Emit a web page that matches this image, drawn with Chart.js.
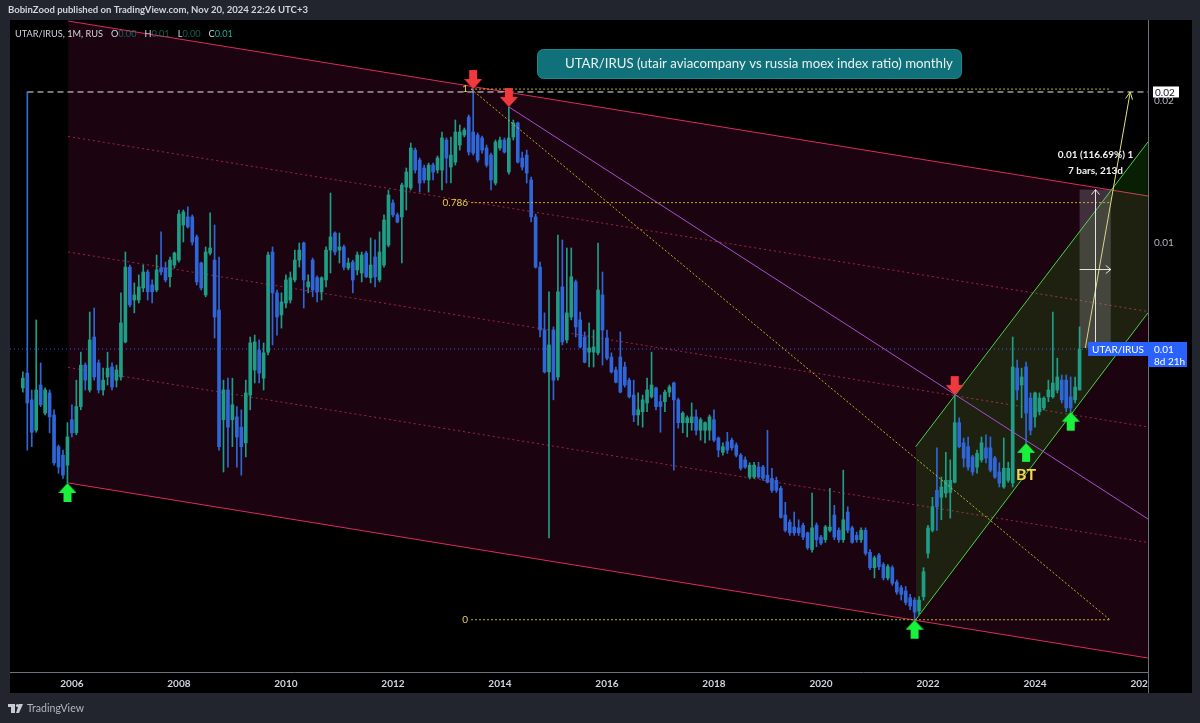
<!DOCTYPE html>
<html>
<head>
<meta charset="utf-8">
<title>UTAR/IRUS monthly</title>
<script src="https://cdn.jsdelivr.net/npm/chart.js@4.4.1/dist/chart.umd.min.js"></script>
<style>
  html, body { margin: 0; padding: 0; background: #22252d; }
  #wrap { width: 1200px; height: 723px; position: relative; }
</style>
</head>
<body>
<div id="wrap"><canvas id="c"></canvas></div>
<script>
// Monthly candles of the UTAR/IRUS ratio, Feb 2005 .. Nov 2024.
// Values are stored in thousandths of the ratio (5.96 means 0.00596).
const startYear = 2005, startMonth = 2;

const opens = [
  4.93, 5.30, 4.65, 4.01, 5.00, 4.36, 4.81, 4.32, 3.70, 3.55, 3.38,
  4.22, 3.96, 4.50, 5.51, 4.88, 6.32, 5.57, 4.88, 5.20, 5.46, 5.12, 5.20,
  6.17, 8.89, 7.57, 7.57, 8.03, 8.68, 8.15, 7.95, 8.85, 8.85, 8.48, 8.98,
  9.20, 10.92, 11.36, 11.36, 10.30, 9.07, 7.76, 9.52, 9.20, 7.21, 4.22, 4.88,
  4.22, 4.28, 4.07, 3.77, 4.76, 5.38, 5.93, 5.17, 5.87, 9.57, 7.84, 7.04,
  7.46, 7.57, 8.35, 9.20, 10.00, 8.07, 9.20, 8.44, 7.88, 8.35, 9.66, 10.50,
  9.66, 9.81, 8.85, 9.11, 8.77, 8.64, 9.52, 8.44, 9.34, 8.35, 8.98, 9.90,
  12.16, 11.47, 11.36, 13.14, 13.08, 15.74, 14.99, 14.42, 13.60, 14.63, 14.28, 14.28,
  16.53, 14.49, 14.84, 16.13, 16.94, 18.50, 17.19, 16.94, 16.70, 15.90, 15.36, 13.40,
  15.90, 16.53, 14.14, 16.78, 17.97, 15.14, 15.36, 13.60, 11.36, 8.89, 6.54, 5.33,
  6.54, 5.20, 8.07, 6.23, 6.97, 8.27, 6.87, 6.32, 5.87, 5.87, 5.85, 7.76,
  6.29, 5.73, 5.38, 5.73, 5.46, 5.12, 4.76, 4.32, 4.39, 4.58, 4.72, 4.93,
  4.61, 4.61, 4.83, 5.05, 4.65, 4.16, 4.16, 4.16, 4.28, 4.01, 4.01, 4.01,
  4.22, 3.86, 3.60, 3.79, 3.82, 3.73, 3.55, 3.47, 3.19, 3.19, 3.35, 3.35,
  3.22, 3.17, 3.14, 3.02, 2.65, 2.56, 2.50, 2.49, 2.52, 2.43, 2.24, 2.52,
  2.38, 2.35, 2.46, 2.65, 2.46, 2.35, 2.69, 2.49, 2.40, 2.35, 2.46, 2.21,
  2.05, 2.18, 2.08, 1.95, 2.05, 1.91, 1.86, 1.83, 1.77, 1.75, 1.66, 1.78,
  2.20, 2.46, 2.99, 2.89, 2.95, 2.96, 3.11, 4.16, 3.77, 3.70, 3.52, 3.35,
  3.47, 3.68, 3.68, 3.50, 3.27, 3.04, 3.14, 3.10, 5.43, 5.00, 5.46, 4.69,
  4.28, 4.39, 4.47, 4.72, 4.72, 4.88, 5.12, 5.12, 4.72, 4.65, 4.88
];
const highs = [
  5.33, 20.90, 4.88, 6.87, 5.57, 4.93, 4.88, 4.43, 3.73, 3.64, 4.16,
  4.54, 5.12, 5.87, 5.57, 7.14, 7.28, 5.65, 5.43, 5.87, 5.57, 5.51, 7.84,
  9.57, 8.98, 8.23, 8.56, 8.98, 8.77, 8.35, 9.43, 10.56, 9.11, 9.34, 9.57,
  11.75, 11.75, 11.93, 11.47, 10.40, 9.11, 9.81, 11.58, 10.92, 9.34, 5.12, 5.17,
  5.17, 4.50, 4.43, 5.12, 6.32, 6.38, 6.23, 6.14, 9.57, 9.81, 7.95, 7.84,
  8.56, 8.68, 9.66, 10.00, 10.05, 8.56, 9.29, 8.52, 8.48, 9.81, 12.76, 10.56,
  10.50, 9.90, 9.29, 9.20, 9.57, 9.57, 9.61, 10.25, 10.15, 10.56, 11.47, 12.95,
  12.34, 11.58, 13.40, 14.42, 16.29, 15.90, 15.14, 14.63, 14.77, 14.77, 15.29, 17.19,
  16.70, 16.78, 18.23, 17.79, 17.53, 18.68, 21.20, 17.11, 16.86, 16.13, 15.51, 16.53,
  16.78, 16.70, 19.42, 18.23, 18.05, 15.59, 15.74, 13.80, 11.52, 9.11, 7.11, 7.88,
  6.64, 10.40, 10.15, 9.76, 9.76, 8.35, 7.14, 6.48, 6.77, 6.54, 10.00, 8.68,
  6.54, 5.85, 5.46, 6.48, 5.59, 5.17, 5.12, 4.81, 4.76, 5.17, 5.87, 4.95,
  4.76, 4.88, 5.00, 5.07, 4.69, 4.39, 4.30, 4.58, 4.43, 4.26, 4.18, 4.32,
  4.43, 3.88, 3.77, 3.97, 3.86, 3.77, 3.58, 3.52, 3.42, 3.43, 3.43, 3.38,
  4.01, 3.33, 3.19, 3.05, 2.82, 2.59, 2.69, 2.59, 2.55, 2.44, 2.95, 2.55,
  2.40, 2.52, 3.02, 2.78, 2.49, 3.30, 2.76, 2.51, 2.44, 2.49, 2.49, 2.24,
  2.17, 2.20, 2.10, 2.08, 2.07, 1.93, 1.88, 1.87, 1.80, 1.77, 1.78, 2.05,
  2.52, 2.89, 3.68, 3.19, 3.60, 3.47, 4.76, 4.26, 3.86, 3.88, 3.55, 3.64,
  3.88, 3.92, 3.88, 3.53, 3.42, 3.86, 3.43, 6.32, 5.65, 5.43, 5.59, 4.81,
  4.83, 4.81, 4.72, 5.12, 7.14, 5.70, 5.25, 5.25, 5.20, 5.20, 6.64
];
const lows = [
  4.83, 3.64, 3.70, 3.97, 4.50, 4.32, 3.96, 3.38, 3.25, 3.17, 3.10,
  3.88, 3.92, 4.43, 4.88, 4.83, 5.12, 4.81, 4.76, 5.00, 4.88, 4.95, 5.12,
  6.14, 7.32, 7.11, 7.46, 7.88, 7.57, 7.46, 7.88, 8.56, 8.27, 8.07, 8.85,
  9.11, 10.05, 10.76, 9.90, 8.15, 7.95, 7.69, 9.43, 6.29, 3.64, 3.27, 3.35,
  3.70, 3.35, 3.22, 3.52, 4.43, 5.05, 5.05, 4.88, 5.79, 6.08, 6.38, 6.60,
  7.28, 7.46, 8.27, 8.89, 7.28, 7.84, 7.69, 7.50, 7.57, 8.07, 8.64, 9.43,
  9.07, 8.77, 8.77, 7.84, 8.56, 8.27, 8.44, 8.23, 8.07, 8.27, 8.89, 9.81,
  11.36, 11.03, 9.07, 11.75, 12.95, 14.07, 12.82, 13.40, 12.82, 13.60, 14.07, 12.95,
  13.40, 13.40, 14.63, 15.74, 16.78, 15.36, 15.36, 14.84, 15.51, 14.49, 12.95, 13.27,
  15.74, 15.51, 14.00, 16.53, 14.77, 14.28, 13.40, 11.08, 8.85, 6.32, 5.30, 2.37,
  4.65, 5.12, 6.08, 6.14, 6.87, 6.32, 5.99, 5.57, 5.46, 5.46, 5.79, 5.51,
  5.65, 5.30, 5.05, 4.81, 4.95, 4.69, 4.18, 4.11, 4.07, 4.39, 4.69, 4.43,
  3.97, 4.39, 4.72, 3.30, 4.05, 3.96, 3.88, 4.01, 3.92, 3.82, 3.77, 3.82,
  3.79, 3.52, 3.55, 3.58, 3.64, 3.52, 3.30, 3.33, 3.16, 3.17, 3.17, 3.14,
  3.10, 2.96, 2.96, 2.61, 2.44, 2.40, 2.40, 2.40, 2.35, 2.24, 2.21, 2.27,
  2.29, 2.32, 2.44, 2.35, 2.32, 2.32, 2.43, 2.31, 2.32, 2.32, 2.18, 2.03,
  1.95, 2.03, 1.93, 1.93, 1.88, 1.80, 1.75, 1.71, 1.67, 1.59, 1.63, 1.75,
  2.15, 2.44, 2.46, 2.59, 2.89, 2.61, 3.10, 3.68, 3.35, 3.30, 3.22, 3.25,
  3.43, 3.42, 3.27, 3.17, 3.04, 3.02, 3.11, 3.04, 4.65, 4.26, 3.77, 3.92,
  4.07, 4.32, 4.43, 4.61, 4.69, 4.81, 4.58, 4.39, 4.39, 4.58, 4.88
];
const closes = [
  5.17, 4.58, 3.97, 4.88, 4.54, 4.88, 4.28, 3.42, 3.35, 3.22, 3.88,
  3.96, 4.50, 5.51, 5.12, 6.23, 5.20, 4.88, 5.12, 5.43, 4.95, 5.38, 6.77,
  8.89, 7.39, 7.76, 8.07, 8.68, 7.88, 7.88, 8.77, 8.68, 8.35, 9.20, 9.52,
  11.52, 11.64, 10.82, 10.05, 8.27, 8.03, 9.57, 9.76, 6.97, 3.70, 4.88, 4.07,
  4.54, 3.88, 3.70, 4.81, 6.14, 6.17, 5.30, 5.85, 9.43, 7.84, 6.97, 7.50,
  8.35, 8.44, 9.20, 9.66, 8.35, 8.27, 7.95, 7.88, 8.44, 9.66, 10.30, 9.57,
  9.81, 8.89, 9.07, 8.35, 9.43, 9.43, 8.48, 8.98, 8.48, 9.57, 11.19, 12.64,
  11.47, 11.08, 13.27, 14.14, 15.90, 14.28, 13.40, 13.60, 14.63, 14.14, 15.14, 16.70,
  15.14, 15.36, 17.19, 17.19, 17.36, 15.59, 15.51, 14.99, 15.74, 14.63, 13.60, 16.37,
  16.53, 15.59, 16.70, 17.97, 14.84, 14.49, 14.07, 11.36, 8.89, 6.54, 5.33, 6.08,
  5.12, 7.88, 6.17, 7.11, 8.48, 6.64, 6.02, 5.59, 5.99, 6.02, 7.95, 6.54,
  5.70, 5.33, 5.07, 4.83, 5.00, 4.72, 4.32, 4.43, 4.65, 4.88, 5.00, 4.50,
  4.50, 4.83, 4.95, 4.65, 4.16, 4.36, 4.26, 4.28, 4.01, 4.22, 4.16, 4.28,
  3.82, 3.64, 3.70, 3.64, 3.68, 3.55, 3.33, 3.35, 3.38, 3.38, 3.19, 3.17,
  3.11, 2.99, 2.99, 2.62, 2.46, 2.43, 2.43, 2.43, 2.38, 2.26, 2.49, 2.35,
  2.31, 2.50, 2.50, 2.38, 2.35, 2.59, 2.46, 2.32, 2.35, 2.46, 2.20, 2.05,
  2.15, 2.06, 1.95, 2.06, 1.90, 1.82, 1.80, 1.73, 1.70, 1.65, 1.75, 2.01,
  2.49, 2.76, 2.76, 3.04, 3.14, 3.14, 4.16, 3.70, 3.50, 3.35, 3.27, 3.58,
  3.77, 3.50, 3.30, 3.19, 3.10, 3.33, 3.33, 5.46, 4.88, 5.20, 4.36, 4.01,
  4.81, 4.69, 4.69, 4.88, 5.05, 5.20, 4.65, 4.47, 4.47, 4.95, 5.96
];

// Axis ticks
const xTickYears = [2006, 2008, 2010, 2012, 2014, 2016, 2018, 2020, 2022, 2024, 2026];
const yTickValues = [0.01, 0.02];

// Drawings on the chart (dates as decimal years, prices in thousandths)
const channelX = [2005.93, 2026.11];
const channelTop = [29.55, 12.58];
const channelBottom = [3.10, 1.319];
const channelLevels = [0.25, 0.5, 0.75];

const fibX = [2013.46, 2025.40];
const fibPrices = [21.20, 1.59];          // level 1, level 0
const fibLevels = [1, 0.786, 0];

const rayStart = 2005.17, rayPrice = 20.90;

const resistX = [2014.17, 2026.11];
const resistY = [19.42, 2.60];

const upChannelX = [2021.77, 2026.11];
const upChannelLower = [1.59, 7.11];
const upChannelUpper = [3.70, 16.37];

const targetX = [2024.94, 2025.78];
const targetY = [5.99, 20.90];

const measureStart = 2024.833, measureBars = 7, measureDays = 213;
const measureLow = 5.99, measurePct = 116.69;

const topMarkX = [2013.5, 2014.167, 2022.5];
const topMarkY = [21.20, 19.42, 4.76];
const bottomMarkX = [2005.917, 2021.75, 2023.833, 2024.667];
const bottomMarkY = [3.10, 1.59, 3.77, 4.39];
const retestMark = 2;   // the bottom mark labelled "BT"

const titleText = 'UTAR/IRUS (utair aviacompany vs russia moex index ratio) monthly';
const headerText = 'BobinZood published on TradingView.com, Nov 20, 2024 22:26 UTC+3';
const symbolText = 'UTAR/IRUS, 1M, RUS';
const countdownText = '8d 21h';

// ---------------------------------------------------------------
const K = 0.001;
const X_MIN = 2004.8433, X_MAX = 2026.1119;
const Y_MIN = 0.001232, Y_MAX = 0.029698;

const UP = '#1f9e87', DOWN = '#2f67d8';
const FRAME = '#22252d';

const candles = closes.map((c, i) => ({
  x: startYear + (startMonth - 1 + i) / 12,
  o: opens[i] * K, h: highs[i] * K, l: lows[i] * K, c: c * K
}));
const last = candles[candles.length - 1];
const colorOf = ctx => {
  const c = candles[ctx.dataIndex];
  return c && c.c >= c.o ? UP : DOWN;
};

function makeArrow(color, pointingDown) {
  const cv = document.createElement('canvas');
  cv.width = 18; cv.height = 40;
  const g = cv.getContext('2d');
  g.fillStyle = color;
  g.beginPath();
  if (pointingDown) {
    g.rect(5, 1, 8, 9);
    g.moveTo(0, 10); g.lineTo(18, 10); g.lineTo(9, 20);
  } else {
    g.rect(5, 30, 8, 9);
    g.moveTo(0, 30); g.lineTo(18, 30); g.lineTo(9, 20);
  }
  g.closePath();
  g.fill();
  return cv;
}
const downArrow = makeArrow('#f0393f', true);
const upArrow = makeArrow('#19f23c', false);

const datasets = [];
const add = ds => { datasets.push(ds); return datasets.length - 1; };
const pts = (xs, ys) => xs.map((x, i) => ({ x, y: ys[i] * K }));
const lineBase = { type: 'line', pointRadius: 0, borderWidth: 1, fill: false, tension: 0 };

// falling channel with its fill and inner quarter lines
const iChanBottom = add({ ...lineBase, data: pts(channelX, channelBottom), borderColor: '#dc2b5e', order: 20 });
add({ ...lineBase, data: pts(channelX, channelTop), borderColor: '#dc2b5e',
      fill: iChanBottom, backgroundColor: 'rgba(136,14,79,0.2)', order: 20 });
channelLevels.forEach(t => add({
  ...lineBase,
  data: channelX.map((x, i) => ({ x, y: K * channelTop[i] * Math.pow(channelBottom[i] / channelTop[i], t) })),
  borderColor: 'rgba(200,38,86,0.8)', borderDash: [2, 3], order: 19
}));

// rising channel
const iUpLower = add({ ...lineBase, data: pts(upChannelX, upChannelLower), borderColor: '#45d445', order: 7 });
add({ ...lineBase, data: pts(upChannelX, upChannelUpper), borderColor: '#45d445',
      fill: iUpLower, backgroundColor: 'rgba(60,210,20,0.15)', order: 7 });

// last price line
add({ ...lineBase, data: [{ x: X_MIN, y: last.c }, { x: X_MAX, y: last.c }],
      borderColor: 'rgba(60,100,255,0.9)', borderDash: [1, 3], order: 6 });

// candles: wicks and bodies
add({ type: 'bar', data: candles.map(c => ({ x: c.x, y: [c.l, c.h] })),
      backgroundColor: colorOf, barThickness: 1, grouped: false, order: 5 });
add({ type: 'bar', data: candles.map(c => ({ x: c.x, y: [Math.min(c.o, c.c), Math.max(c.o, c.c)] })),
      backgroundColor: colorOf, barThickness: 3, minBarLength: 1, grouped: false, order: 5 });

// fibonacci retracement
const fibPrice = t => K * fibPrices[1] * Math.pow(fibPrices[0] / fibPrices[1], t);
fibLevels.forEach(t => add({ ...lineBase, data: fibX.map(x => ({ x, y: fibPrice(t) })),
      borderColor: 'rgba(215,190,40,0.9)', borderDash: [2, 2], order: 3 }));
add({ ...lineBase, data: [{ x: fibX[0], y: fibPrice(1) }, { x: fibX[1], y: fibPrice(0) }],
      borderColor: 'rgba(215,190,40,0.9)', borderDash: [2, 2], order: 3 });

// horizontal ray from the 2005 high
add({ ...lineBase, data: [{ x: rayStart, y: rayPrice * K }, { x: X_MAX, y: rayPrice * K }],
      borderColor: '#e8e8e8', borderDash: [6, 4], order: 3 });

// falling resistance line
add({ ...lineBase, data: pts(resistX, resistY), borderColor: '#a64fd0', order: 3 });

// projection arrow
const iTarget = add({ ...lineBase, data: pts(targetX, targetY), borderColor: '#e6df78', order: 1 });

// turning point markers
add({ type: 'line', showLine: false, data: pts(topMarkX, topMarkY), pointStyle: downArrow, pointRadius: 9, order: 0 });
const iBottomMarks = add({ type: 'line', showLine: false, data: pts(bottomMarkX, bottomMarkY),
      pointStyle: upArrow, pointRadius: 9, order: 0 });

function fitFont(ctx, text, weight, family, width) {
  ctx.font = `${weight} 20px ${family}`;
  const size = 20 * width / ctx.measureText(text).width;
  ctx.font = `${weight} ${size.toFixed(2)}px ${family}`;
}

const decor = {
  id: 'decor',
  beforeDraw(chart) {
    const { ctx, width, height, chartArea } = chart;
    const xs = chart.scales.x, ys = chart.scales.y;
    ctx.save();
    ctx.fillStyle = FRAME;
    ctx.fillRect(0, 0, width, height);
    ctx.fillStyle = '#000';
    ctx.fillRect(chartArea.left, chartArea.top, ys.right - chartArea.left, xs.bottom - chartArea.top);
    ctx.restore();
  },
  afterDatasetsDraw(chart) {
    const { ctx, chartArea } = chart;
    const xs = chart.scales.x, ys = chart.scales.y;
    ctx.save();
    ctx.beginPath();
    ctx.rect(chartArea.left, chartArea.top, chartArea.right - chartArea.left, chartArea.bottom - chartArea.top);
    ctx.clip();

    // price/date range measurement
    const lowP = measureLow * K, highP = lowP * (1 + measurePct / 100);
    const mx0 = xs.getPixelForValue(measureStart);
    const mx1 = xs.getPixelForValue(measureStart + measureBars / 12);
    const my0 = ys.getPixelForValue(highP), my1 = ys.getPixelForValue(lowP);
    ctx.fillStyle = 'rgba(178,181,190,0.25)';
    ctx.fillRect(mx0, my0, mx1 - mx0, my1 - my0);
    const cx = Math.round((mx0 + mx1) / 2) + 0.5, cy = Math.round((my0 + my1) / 2) + 0.5;
    ctx.strokeStyle = 'rgba(255,255,255,0.85)';
    ctx.lineWidth = 1;
    ctx.beginPath();
    ctx.moveTo(cx, my1); ctx.lineTo(cx, my0);
    ctx.moveTo(cx - 4, my0 + 5); ctx.lineTo(cx, my0); ctx.lineTo(cx + 4, my0 + 5);
    ctx.moveTo(mx0, cy); ctx.lineTo(mx1, cy);
    ctx.moveTo(mx1 - 5, cy - 4); ctx.lineTo(mx1, cy); ctx.lineTo(mx1 - 5, cy + 4);
    ctx.stroke();
    ctx.fillStyle = '#f0f0f0';
    ctx.font = 'bold 10px Lato';
    ctx.textAlign = 'center';
    ctx.textBaseline = 'middle';
    ctx.fillText(`${(highP - lowP).toFixed(2)} (${measurePct.toFixed(2)}%) 1`, cx, my0 - 35);
    ctx.fillText(`${measureBars} bars, ${measureDays}d`, cx, my0 - 19);

    // arrow head of the projection line
    const tm = chart.getDatasetMeta(iTarget).data;
    const a = tm[0], b = tm[1];
    const ang = Math.atan2(b.y - a.y, b.x - a.x);
    ctx.strokeStyle = '#e6df78';
    ctx.beginPath();
    ctx.moveTo(b.x - 8 * Math.cos(ang - 0.45), b.y - 8 * Math.sin(ang - 0.45));
    ctx.lineTo(b.x, b.y);
    ctx.lineTo(b.x - 8 * Math.cos(ang + 0.45), b.y - 8 * Math.sin(ang + 0.45));
    ctx.stroke();

    // fibonacci level labels
    ctx.fillStyle = '#e8d23a';
    ctx.font = '10px Lato';
    ctx.textAlign = 'right';
    const fx = xs.getPixelForValue(fibX[0]) - 3;
    fibLevels.forEach(t => ctx.fillText(String(t), fx, ys.getPixelForValue(fibPrice(t))));

    // retest label
    const bt = chart.getDatasetMeta(iBottomMarks).data[retestMark];
    ctx.fillStyle = '#f5d84a';
    ctx.font = 'bold 16px Lato';
    ctx.textAlign = 'center';
    ctx.fillText('BT', bt.x, bt.y + 32);
    ctx.restore();
  },
  afterDraw(chart) {
    const { ctx, chartArea } = chart;
    const xs = chart.scales.x, ys = chart.scales.y;
    ctx.save();

    // cover the x labels running under the price scale
    ctx.fillStyle = '#000';
    ctx.fillRect(chartArea.right + 1, chartArea.bottom + 1, ys.right - chartArea.right - 1, xs.bottom - chartArea.bottom - 1);

    // axis separators
    ctx.strokeStyle = '#6e717b';
    ctx.lineWidth = 1;
    ctx.beginPath();
    ctx.moveTo(chartArea.left, chartArea.bottom + 0.5);
    ctx.lineTo(chartArea.right, chartArea.bottom + 0.5);
    ctx.moveTo(chartArea.right + 0.5, chartArea.top);
    ctx.lineTo(chartArea.right + 0.5, xs.bottom);
    ctx.stroke();

    // header line
    ctx.textBaseline = 'middle';
    ctx.textAlign = 'left';
    ctx.fillStyle = '#d1d4dc';
    fitFont(ctx, headerText, 'bold', 'Lato', 300);
    ctx.fillText(headerText, 8, 10);

    // symbol legend with last bar values
    fitFont(ctx, symbolText, 'normal', 'Lato', 88);
    ctx.fillStyle = '#d1d4dc';
    ctx.fillText(symbolText, 15, 34);
    let lx = 15 + 88 + 8;
    [['O', last.o], ['H', last.h], ['L', last.l], ['C', last.c]].forEach(([k, v], i) => {
      ctx.fillStyle = '#d1d4dc';
      ctx.fillText(k, lx, 34);
      lx += ctx.measureText(k).width;
      ctx.fillStyle = i === 3 ? '#22ab94' : 'rgba(34,171,148,0.55)';
      const s = v.toFixed(2);
      ctx.fillText(s, lx, 34);
      lx += ctx.measureText(s).width + 8;
    });

    // title note
    ctx.fillStyle = '#10717a';
    ctx.strokeStyle = '#1a8a90';
    ctx.beginPath();
    ctx.roundRect(537.5, 49.5, 424, 29, 6);
    ctx.fill();
    ctx.stroke();
    ctx.fillStyle = '#e9f1f1';
    fitFont(ctx, titleText, 'normal', 'Lato', 388);
    ctx.fillText(titleText, 565, 64);

    // price scale labels
    const axX = chartArea.right;
    ctx.font = '10px Lato';
    const ry = ys.getPixelForValue(rayPrice * K);
    ctx.fillStyle = '#ffffff';
    ctx.fillRect(axX + 5, ry - 5.5, 26, 11);
    ctx.fillStyle = '#131722';
    ctx.fillText((rayPrice * K).toFixed(2), axX + 7, ry + 0.5);

    const py = Math.round(ys.getPixelForValue(last.c));
    ctx.font = '10px Lato';
    const nameW = ctx.measureText('UTAR/IRUS').width + 8;
    ctx.fillStyle = '#2962ff';
    ctx.fillRect(axX - nameW, py - 7, nameW, 14);
    ctx.fillRect(axX, py - 7, 39, 25);
    ctx.fillStyle = '#ffffff';
    ctx.fillText('UTAR/IRUS', axX - nameW + 4, py + 0.5);
    ctx.fillText(last.c.toFixed(2), axX + 6, py + 0.5);
    ctx.fillText(countdownText, axX + 6, py + 12.5);

    // footer brand
    ctx.fillStyle = '#c7cad3';
    ctx.fillRect(8, 704, 7, 3);
    ctx.fillRect(11, 704, 4, 9);
    ctx.beginPath();
    ctx.arc(17.5, 705.5, 1.6, 0, Math.PI * 2);
    ctx.fill();
    ctx.beginPath();
    ctx.moveTo(19, 704); ctx.lineTo(23, 704); ctx.lineTo(19, 713); ctx.lineTo(16, 713);
    ctx.closePath();
    ctx.fill();
    ctx.fillStyle = '#b2b5be';
    fitFont(ctx, 'TradingView', 'normal', 'Lato', 57);
    ctx.fillText('TradingView', 27, 709);
    ctx.restore();
  }
};

new Chart(document.getElementById('c'), {
  type: 'bar',
  data: { datasets },
  options: {
    responsive: true,
    maintainAspectRatio: false,
    animation: false,
    events: [],
    layout: { padding: { left: 8, right: 8, top: 20, bottom: 30 } },
    plugins: { legend: { display: false }, tooltip: { enabled: false } },
    scales: {
      x: {
        type: 'linear', min: X_MIN, max: X_MAX, offset: false,
        grid: { display: false, drawTicks: false },
        border: { display: false },
        ticks: {
          color: '#d1d4dc', font: { family: 'Lato', size: 10, weight: 'bold' },
          padding: 6, maxRotation: 0, autoSkip: false,
          callback: v => String(v)
        },
        afterBuildTicks: s => { s.ticks = xTickYears.map(v => ({ value: v })); },
        afterFit: s => { s.height = 21; }
      },
      y: {
        type: 'logarithmic', position: 'right', min: Y_MIN, max: Y_MAX,
        grid: { display: false, drawTicks: false },
        border: { display: false },
        ticks: {
          color: '#b2b5be', font: { family: 'Lato', size: 10 }, padding: 6,
          callback: v => Number(v).toFixed(2)
        },
        afterBuildTicks: s => { s.ticks = yTickValues.map(v => ({ value: v })); },
        afterFit: s => { s.width = 44; }
      }
    }
  },
  plugins: [decor]
});
</script>
</body>
</html>
